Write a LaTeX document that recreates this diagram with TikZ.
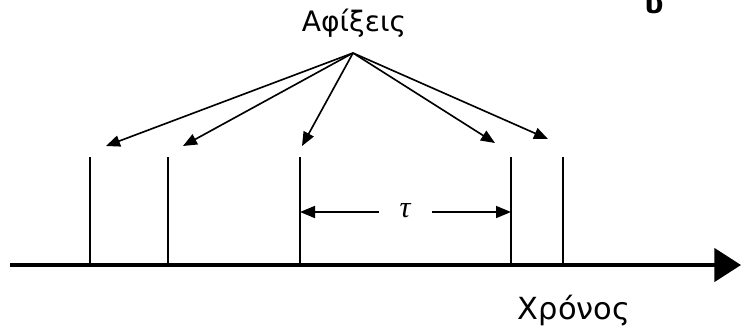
\documentclass[tikz,border=0pt]{standalone}
\usepackage{fontspec}
\setmainfont{DejaVu Sans}
\newfontfamily\tauface{Liberation Serif}
\usetikzlibrary{arrows.meta}

\begin{document}
\begin{tikzpicture}[x=0.03cm,y=-0.03cm]
\tikzset{
  label/.style={inner sep=0pt,font=\fontsize{24}{28}\selectfont},
  axisline/.style={draw=black,line width=3pt,-{Triangle[length=8mm,width=10mm]}},
  tickline/.style={draw=black,line width=2.4pt},
  pointer/.style={draw=black,line width=1.4pt,-{Triangle[length=4.2mm,width=3.4mm]}},
  span/.style={draw=black,line width=1.4pt,-{Triangle[length=4.5mm,width=3.6mm]}}
}
\useasboundingbox (0,0) rectangle (741,332);
% labels
\node[label] (n_arr) at (354,23) {Αφίξεις};
\node[label,font=\fontsize{26}{30}\selectfont] (n_time) at (574,311) {Χρόνος};
\node[label,font=\fontsize{24}{28}\selectfont\bfseries,anchor=base] (n_frag) at (654,13) {υ};
\node[inner sep=0pt,font=\fontsize{26}{28}\selectfont\tauface\itshape] (n_tau) at (405,211) {τ};
\coordinate (apex) at (353,53);
% time axis
\coordinate (ax0) at (10,265);
\coordinate (ax1) at (741,265);
\draw[axisline] (ax0) -- (ax1);
% arrival ticks
\foreach \i/\x in {1/90,2/168,3/300,4/511,5/563}{
  \coordinate (t\i) at (\x,157);
  \coordinate (b\i) at (\x,265);
  \draw[tickline] (b\i) -- (t\i);
}
% arrows to arrivals
\coordinate (p1) at (106,146);
\coordinate (p2) at (183,146);
\coordinate (p3) at (302,146);
\coordinate (p4) at (495,143);
\coordinate (p5) at (548,139);
\foreach \i in {1,...,5}{
  \draw[pointer] (apex) -- (p\i);
}
% interarrival time
\coordinate (s3) at (300,212);
\coordinate (s4) at (511,212);
\coordinate (l0) at (379,212);
\coordinate (r0) at (432,212);
\draw[span] (l0) -- (s3);
\draw[span] (r0) -- (s4);
\end{tikzpicture}
\end{document}
